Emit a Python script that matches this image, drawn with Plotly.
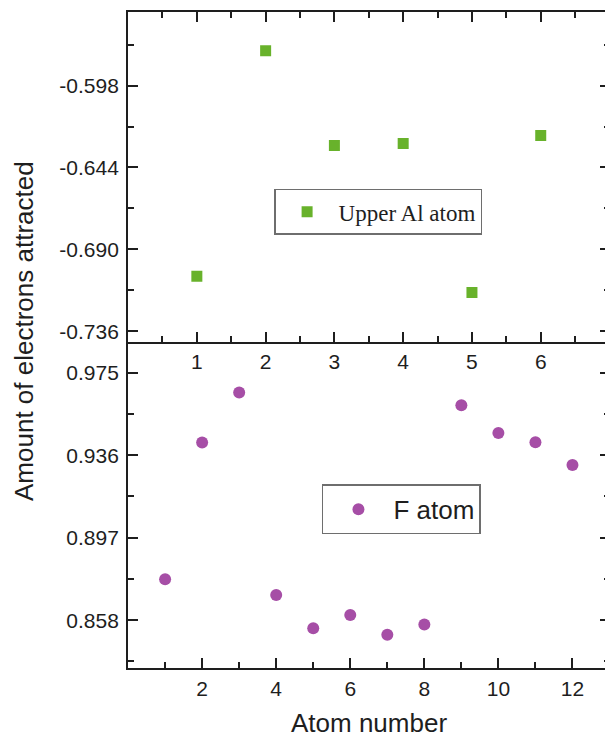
import plotly.graph_objects as go

# ---- data ----
al_atom_no = [1, 2, 3, 4, 5, 6]
al_values = [-0.7051, -0.5785, -0.6317, -0.6305, -0.7143, -0.6260]

f_atom_no = [1, 2, 3, 4, 5, 6, 7, 8, 9, 10, 11, 12]
f_values = [0.8773, 0.9420, 0.9657, 0.8699, 0.8542, 0.8604,
            0.8511, 0.8560, 0.9597, 0.9465, 0.9421, 0.9314]

top_x_ticks = [1, 2, 3, 4, 5, 6]
bottom_x_ticks = [2, 4, 6, 8, 10, 12]
top_y_ticks = [-0.598, -0.644, -0.690, -0.736]
top_y_labels = ["-0.598", "-0.644", "-0.690", "-0.736"]
bottom_y_ticks = [0.858, 0.897, 0.936, 0.975]
bottom_y_labels = ["0.858", "0.897", "0.936", "0.975"]

GREEN = "#68b22b"
PURPLE = "#a64ea6"
INK = "#1e1e1e"
# the original figure is slightly wider than the 605 px window; its right
# frame falls just outside the visible area
W, H = 612, 740

fig = go.Figure()
fig.add_trace(go.Scatter(
    x=al_atom_no, y=al_values, mode="markers", name="Upper Al atom",
    marker=dict(symbol="square", size=11, color=GREEN),
    xaxis="x", yaxis="y", legend="legend"))
fig.add_trace(go.Scatter(
    x=f_atom_no, y=f_values, mode="markers", name="F atom",
    marker=dict(symbol="circle", size=12, color=PURPLE),
    xaxis="x2", yaxis="y2", legend="legend2"))

xdom = [128.5 / W, 611.5 / W]
top_dom = [(H - 342) / H, (H - 12) / H]
bot_dom = [(H - 669) / H, (H - 342) / H]
top_range = [-0.74178, -0.55666]
bot_range = [0.83533, 0.98978]

tickfont = dict(family="Liberation Sans, Arial, sans-serif", size=21, color=INK)
common = dict(showline=True, linecolor=INK, linewidth=2, ticks="inside",
              ticklen=10, tickwidth=2, tickcolor=INK, showgrid=False,
              zeroline=False, tickfont=tickfont)


def minor(dt, t0):
    return dict(dtick=dt, tick0=t0, ticks="inside", ticklen=6,
                tickwidth=2, tickcolor=INK, tickmode="linear")


fig.update_layout(
    width=W, height=H, autosize=False,
    margin=dict(l=0, r=0, t=0, b=0),
    paper_bgcolor="white", plot_bgcolor="white",
    xaxis=dict(domain=xdom, anchor="y", range=[0, 7],
               tickmode="array", tickvals=top_x_ticks, mirror="ticks",
               ticklabelstandoff=0, minor=minor(0.5, 0), **common),
    yaxis=dict(domain=top_dom, anchor="x", range=top_range,
               tickmode="array", tickvals=top_y_ticks, ticktext=top_y_labels,
               mirror="ticks", ticklabelstandoff=3,
               minor=minor(0.023, -0.598), **common),
    xaxis2=dict(domain=xdom, anchor="y2", range=[0, 13],
                tickmode="array", tickvals=bottom_x_ticks, mirror=False,
                ticklabelstandoff=1, minor=minor(1, 0), **common),
    yaxis2=dict(domain=bot_dom, anchor="x2", range=bot_range,
                tickmode="array", tickvals=bottom_y_ticks, ticktext=bottom_y_labels,
                mirror="ticks", ticklabelstandoff=3,
                minor=minor(0.0195, 0.975), **common),
    legend=dict(x=275 / W, y=1 - 189 / H, xanchor="left", yanchor="top",
                bgcolor="white", bordercolor="#6e6e6e", borderwidth=1.5,
                itemwidth=53,
                font=dict(family="Liberation Serif, Times New Roman, serif",
                          size=23, color=INK)),
    legend2=dict(x=323 / W, y=1 - 485 / H, xanchor="left", yanchor="top",
                 bgcolor="white", bordercolor="#6e6e6e", borderwidth=1.5,
                 itemwidth=60,
                 font=dict(family="Liberation Sans, Arial, sans-serif",
                           size=26, color=INK)),
    showlegend=True,
)

fig.add_annotation(text="Amount of electrons attracted", xref="paper", yref="paper",
                   x=24 / W, y=1 - 331.5 / H, xanchor="center", yanchor="middle",
                   textangle=-90, showarrow=False,
                   font=dict(family="Liberation Sans, Arial, sans-serif", size=26, color=INK))
fig.add_annotation(text="Atom number", xref="paper", yref="paper",
                   x=370 / W, y=0, xanchor="center", yanchor="bottom",
                   showarrow=False, borderpad=0,
                   font=dict(family="Liberation Sans, Arial, sans-serif", size=26, color=INK))

fig.write_html("out.html", config={"displayModeBar": False},
               post_script="document.body.style.margin='0';document.body.style.overflow='hidden';")
